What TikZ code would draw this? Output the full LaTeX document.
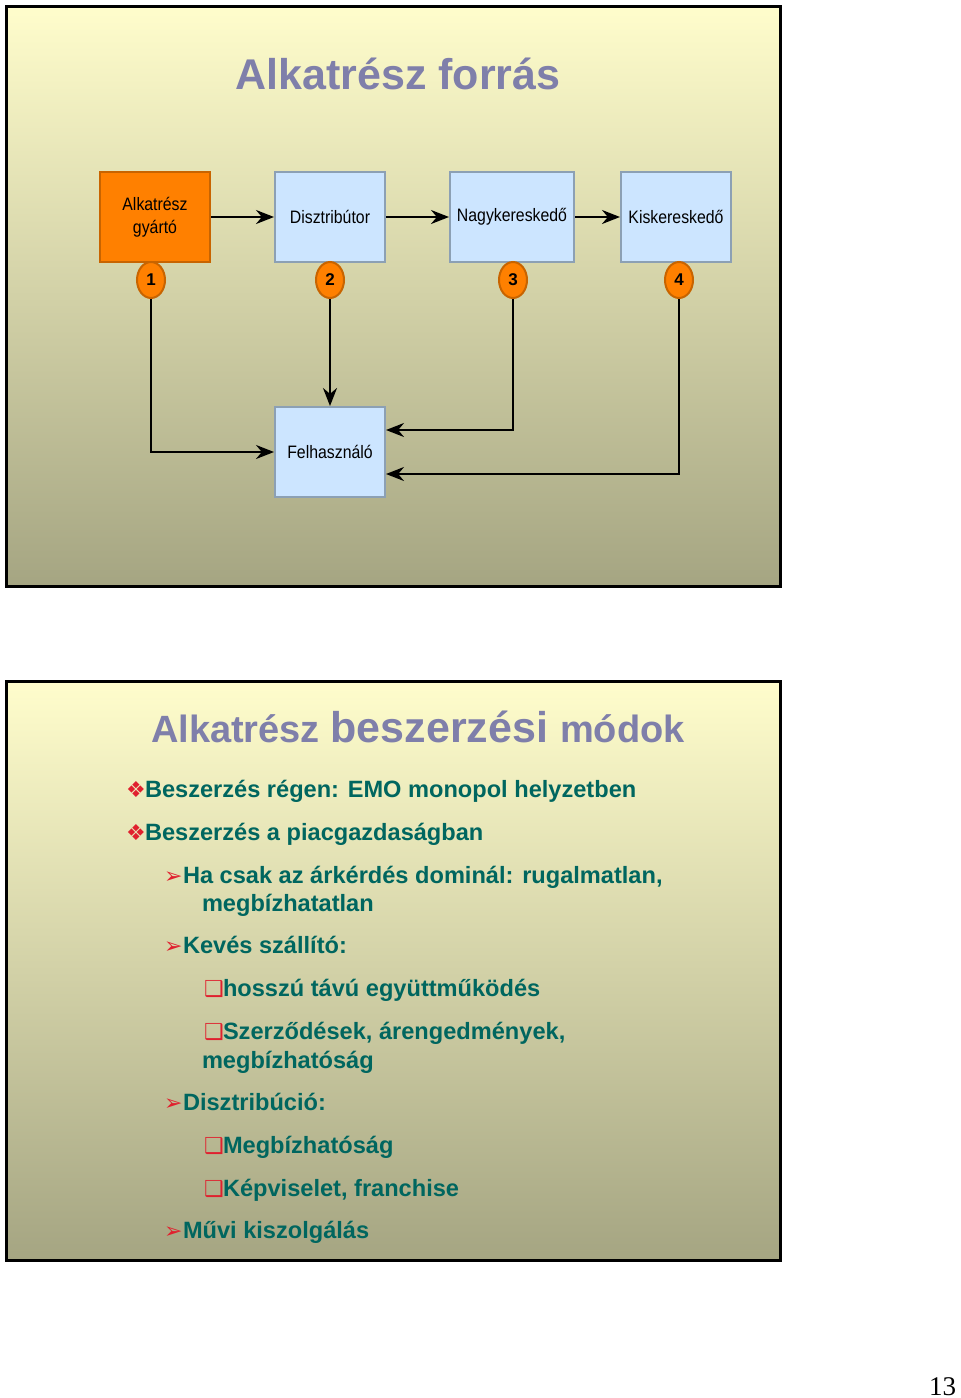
\documentclass[tikz,border=0pt]{standalone}
\usepackage{fontspec}
\setmainfont{Liberation Sans}
\newfontfamily\boxfont[FakeStretch=0.88]{Liberation Sans}
\newfontfamily\symfont{DejaVu Sans}
\newfontfamily\pagefont{Liberation Serif}
\usetikzlibrary{arrows.meta, positioning, shapes.geometric}
\definecolor{ctop}{HTML}{FFFDCC}
\definecolor{cbottom}{HTML}{A5A582}
\definecolor{ctitle}{HTML}{7F7FAA}
\definecolor{ctext}{HTML}{00665F}
\definecolor{cbul}{HTML}{E0202E}
\definecolor{corange}{HTML}{FF8000}
\definecolor{cdorange}{HTML}{C86400}
\definecolor{cblue}{HTML}{CCE5FF}
\definecolor{cdblue}{HTML}{8CA0B4}
\newcommand{\bul}[1]{\makebox[9.5pt][l]{\symfont\color{cbul}\fontsize{11}{11}\selectfont#1}}
\tikzset{
  every picture/.style={line width=1pt},
  slide/.style={draw=black, line width=1.5pt, top color=ctop, bottom color=cbottom},
  box/.style={draw=cdblue, fill=cblue, minimum width=55pt, minimum height=45pt, inner sep=2pt, align=center,
    font=\boxfont\fontsize{9}{11.5}\selectfont},
  num/.style={ellipse, draw=cdorange, fill=corange, minimum width=14pt, minimum height=18pt, inner sep=0pt,
    font=\bfseries\fontsize{8.5}{10}\selectfont},
  arrow/.style={-{Stealth[length=9pt, width=7pt]}, draw=black, line width=1pt},
  title/.style={text=ctitle, font=\bfseries, anchor=base, inner sep=0pt},
  item/.style={anchor=base west, text=ctext, font=\bfseries\fontsize{11.8}{14}\selectfont, inner sep=0pt},
}

\begin{document}
\begin{tikzpicture}[x=0.5pt, y=-0.5pt]
  \useasboundingbox (0,0) rectangle (960,1398);
  % first slide
  \fill[white] (0,0) rectangle (960,1398);
  \path[slide] (6,6) rectangle (780,586);
  \node[title, font=\bfseries\fontsize{21.5}{24}\selectfont] (t1) at (398,89) {Alkatrész forrás};
  \node[box, fill=corange, draw=cdorange] (mfr) at (155,217) {Alkatrész\\gyártó};
  \node[box] (dist) at (330,217) {Disztribútor};
  \node[box, minimum width=62pt] (whole) at (512,217) {Nagykereskedő};
  \node[box] (retail) at (676,217) {Kiskereskedő};
  \node[box] (user) at (330,452) {Felhasználó};
  \draw[arrow] (mfr) -- (dist);
  \draw[arrow] (dist) -- (whole);
  \draw[arrow] (whole) -- (retail);
  \foreach \i/\x in {1/151,2/330,3/513,4/679} {\node[num] (n\i) at (\x,280) {\i};}
  \draw[arrow] (n1.south) |- (user.west);
  \draw[arrow] (n2.south) -- (user.north);
  \draw[arrow] (n3.south) |- ([yshift=11pt]user.east);
  \draw[arrow] (n4.south) |- ([yshift=-11pt]user.east);
  % second slide
  \path[slide] (6,681) rectangle (780,1260);
  \node[title, anchor=base west] (t2) at (150,742) {\fontsize{19}{22}\selectfont Alkatrész
    \fontsize{21.5}{24}\selectfont beszerzési \fontsize{19}{22}\selectfont módok};
  \foreach \i/\x/\y/\t in {1/125/797/{\bul{❖}Beszerzés régen: EMO monopol helyzetben},
      2/125/840/{\bul{❖}Beszerzés a piacgazdaságban},
      3/163/883/{\bul{➢}Ha csak az árkérdés dominál: rugalmatlan,},
      4/201/911/{megbízhatatlan},
      5/163/953/{\bul{➢}Kevés szállító:},
      6/203/996/{\bul{❑}hosszú távú együttműködés},
      7/203/1039/{\bul{❑}Szerződések, árengedmények,},
      8/201/1068/{megbízhatóság},
      9/163/1110/{\bul{➢}Disztribúció:},
      10/203/1153/{\bul{❑}Megbízhatóság},
      11/203/1196/{\bul{❑}Képviselet, franchise},
      12/163/1238/{\bul{➢}Művi kiszolgálás}}
    {\node[item] (l\i) at (\x,\y) {\t};}
  \node[anchor=base east, inner sep=0pt, font=\pagefont\fontsize{13.5}{16}\selectfont] (page) at (957,1395) {13};
\end{tikzpicture}
\end{document}
